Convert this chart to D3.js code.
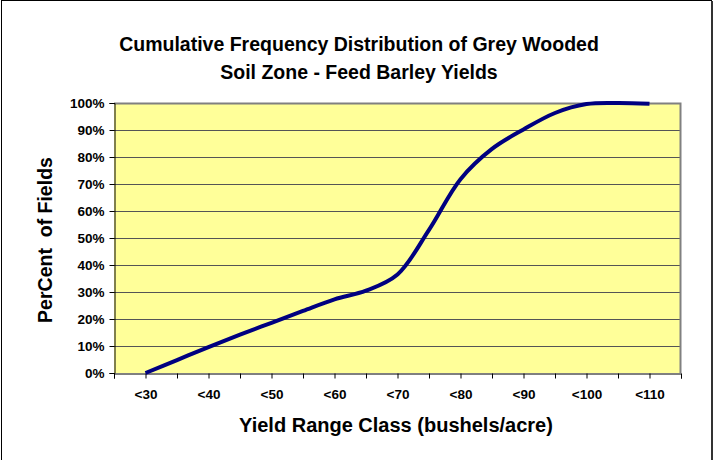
<!DOCTYPE html>
<html>
<head>
<meta charset="utf-8">
<script src="https://cdn.jsdelivr.net/npm/d3@7/dist/d3.min.js"></script>
<style>
  body { margin: 0; background: #fff; }
  text { font-family: "Liberation Sans", Arial, sans-serif; font-weight: bold; fill: #000; }
</style>
</head>
<body>
<div id="chart"></div>
<script>
// yield range classes (bushels/acre upper bound) and cumulative percent of fields
var yieldClasses = [30, 35, 40, 45, 50, 55, 60, 65, 70, 75, 80, 85, 90, 95, 100, 105, 110];
var cumPercent   = [0, 4.8, 9.6, 14.2, 18.6, 23, 27.3, 30.5, 36.5, 53, 71.8, 83, 90.2, 96.3, 99.6, 100, 99.7];
var xLabels = ["<30", "<40", "<50", "<60", "<70", "<80", "<90", "<100", "<110"];
var yTicks = [0, 10, 20, 30, 40, 50, 60, 70, 80, 90, 100];

var width = 718, height = 460;
var plotLeft = 114, plotRight = 681, plotTop = 103, plotBottom = 373;

var svg = d3.select("#chart").append("svg")
    .attr("width", width)
    .attr("height", height);

// chart area border
svg.append("rect")
    .attr("x", 1.5).attr("y", 0.5)
    .attr("width", 710).attr("height", 470)
    .attr("fill", "#fff")
    .attr("stroke", "#000")
    .attr("stroke-width", 1);
svg.append("line")
    .attr("x1", 712).attr("x2", 712).attr("y1", 1).attr("y2", height)
    .attr("stroke", "#333").attr("stroke-width", 2);

var x = d3.scaleLinear().domain([25, 115]).range([plotLeft, plotRight]);
var y = d3.scaleLinear().domain([0, 100]).range([plotBottom, plotTop]);

// plot area
svg.append("rect")
    .attr("x", plotLeft).attr("y", plotTop)
    .attr("width", plotRight - plotLeft).attr("height", plotBottom - plotTop)
    .attr("fill", "#ffff99");

// gridlines
svg.append("g").selectAll("line")
    .data(yTicks.filter(function(d) { return d > 0 && d < 100; }))
    .enter().append("line")
    .attr("x1", plotLeft).attr("x2", plotRight)
    .attr("y1", function(d) { return Math.round(y(d)) + 0.5; })
    .attr("y2", function(d) { return Math.round(y(d)) + 0.5; })
    .attr("stroke", "#555")
    .attr("stroke-width", 1);

// plot area top / right border
svg.append("path")
    .attr("d", "M" + plotLeft + "," + (plotTop + 0.5) + "H" + (plotRight - 0.5) + "V" + plotBottom)
    .attr("fill", "none")
    .attr("stroke", "#808080")
    .attr("stroke-width", 2);

// y axis
var yAxis = svg.append("g")
    .attr("transform", "translate(" + (plotLeft + 0.5) + ",0)")
    .call(d3.axisLeft(y).tickValues(yTicks).tickSize(5).tickPadding(5)
        .tickFormat(function(d) { return d + "%"; }));
yAxis.selectAll("line, path").attr("stroke", "#000");
yAxis.selectAll("text").style("font-size", "13.5px").style("font-family", "Liberation Sans, Arial, sans-serif");

// x axis
var xAxis = svg.append("g")
    .attr("transform", "translate(0," + (plotBottom + 0.5) + ")")
    .call(d3.axisBottom(x).tickValues(d3.range(25, 116, 5)).tickSize(5).tickPadding(11)
        .tickFormat(function(d) {
            var lab = "<" + d;
            return xLabels.indexOf(lab) >= 0 ? lab : "";
        }));
xAxis.selectAll("line, path").attr("stroke", "#000");
xAxis.selectAll("text").style("font-size", "13.5px").style("font-family", "Liberation Sans, Arial, sans-serif");

// cumulative curve
var line = d3.line()
    .x(function(d, i) { return x(yieldClasses[i]); })
    .y(function(d) { return y(d); })
    .curve(d3.curveCatmullRom.alpha(0.5));

svg.append("path")
    .datum(cumPercent)
    .attr("d", line)
    .attr("fill", "none")
    .attr("stroke", "#000080")
    .attr("stroke-width", 4)
    .attr("stroke-linejoin", "round");

// titles
svg.append("text")
    .attr("x", 359).attr("y", 51)
    .attr("text-anchor", "middle")
    .style("font-size", "19.5px")
    .text("Cumulative Frequency Distribution of Grey Wooded");
svg.append("text")
    .attr("x", 359).attr("y", 79)
    .attr("text-anchor", "middle")
    .style("font-size", "19.5px")
    .text("Soil Zone - Feed Barley Yields");

svg.append("text")
    .attr("x", 396).attr("y", 432)
    .attr("text-anchor", "middle")
    .style("font-size", "20px")
    .text("Yield Range Class (bushels/acre)");

svg.append("text")
    .attr("transform", "translate(52," + 240 + ") rotate(-90)")
    .attr("text-anchor", "middle")
    .style("white-space", "pre")
    .style("font-size", "19.5px")
    .text("PerCent  of Fields");
</script>
</body>
</html>
